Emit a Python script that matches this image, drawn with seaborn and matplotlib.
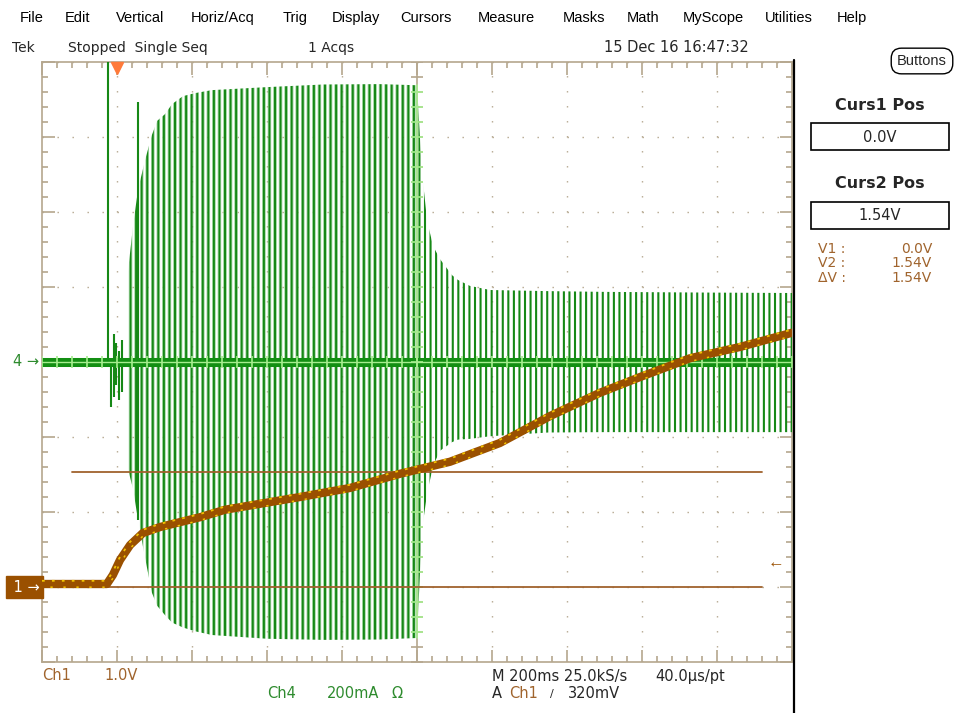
import numpy as np
import matplotlib
matplotlib.use('Agg')
import matplotlib.pyplot as plt
import matplotlib.transforms as mtrans
from matplotlib.lines import Line2D
from matplotlib.patches import Rectangle
from matplotlib.ticker import MultipleLocator
import seaborn as sns

# ---- values (trigger at t = 0) ----
# Ch1 voltage trace, 1.0 V/div
ch1_t = [-0.2, -0.027, -0.011, 0.008, 0.035, 0.069, 0.115, 0.221, 0.288,
         0.488, 0.621, 0.755, 0.888, 1.021, 1.155, 1.288, 1.395, 1.528, 1.661, 1.8]
ch1_v = [0.04, 0.04, 0.16, 0.36, 0.56, 0.72, 0.80, 0.93, 1.03,
         1.20, 1.32, 1.51, 1.67, 1.92, 2.28, 2.59, 2.80, 3.05, 3.20, 3.39]

# Ch4 current (mA), 200 mA/div: envelope of the burst and of the ringing after it
burst_t = [0.027, 0.043, 0.056, 0.075, 0.093, 0.107, 0.128, 0.147, 0.176,
           0.208, 0.253, 0.40, 0.55, 0.70, 0.80]
burst_hi = [221, 365, 459, 539, 605, 643, 661, 688, 709, 717, 725, 733, 740, 741, 738]
burst_lo = [-277, -339, -421, -523, -615, -650, -675, -695, -708, -718, -728, -738, -741, -740, -736]

ring_t = [0.80, 0.813, 0.827, 0.843, 0.861, 0.893, 0.909, 0.941, 0.995,
          1.15, 1.30, 1.45, 1.60, 1.80]
ring_hi = [738, 509, 376, 309, 275, 232, 219, 203, 192, 189, 187, 186, 185, 184]
ring_lo = [-736, -450, -350, -277, -237, -214, -207, -205, -198, -188, -187, -187, -187, -187]

# single spikes before the burst
spike_t = [-0.024, -0.016, -0.008, -0.003, 0.005, 0.013, 0.056]
spike_lo = [0, -120, -93, -60, -100, -80, -421]
spike_hi = [800, 0, 75, 50, 30, 60, 693]

base_t = [-0.2, 1.8]
base_i = [0, 0]

cursor_v = [0.0, 1.54]
trig_level = 0.32
trig_time = 0.0

menu_items = ['File', 'Edit', 'Vertical', 'Horiz/Acq', 'Trig', 'Display', 'Cursors',
              'Measure', 'Masks', 'Math', 'MyScope', 'Utilities', 'Help']
menu_x = [20, 65, 116, 191, 283, 332, 400, 478, 563, 627, 683, 765, 837]

# ---- colours ----
GRAT = '#b5a78e'
BROWN = '#9a5000'
YELLOW = '#f2c400'
CURS = '#a0622d'
TXT_BROWN = '#a0642d'
GREEN = '#168816'
GREEN_LIGHT = '#8fd08f'
BAND = '#138f13'
OVER = '#a6ee8e'
TXT_GREEN = '#2e8b2e'
SCOPE_FONT = ['DejaVu Sans']

sns.set_theme(style='white')
plt.rcParams['font.family'] = ['Liberation Sans', 'DejaVu Sans']

W, H = 959, 713
fig = plt.figure(figsize=(W / 100, H / 100), dpi=100)
fig.patch.set_facecolor('white')


def fx(x):
    return x / W


def fy(y):
    return 1 - y / H


# graticule area: 10 x 8 divisions, 75 px each
ax4 = fig.add_axes([fx(42), fy(662), 750 / W, 600 / H])
ax1 = ax4.twinx()


# hatched envelopes give the dense vertical-line look of the Ch4 trace
def hatched(t, lo, hi, pattern, color, width):
    with plt.rc_context({'hatch.color': color, 'hatch.linewidth': width}):
        coll = ax4.fill_between(t, lo, hi, facecolor='none', edgecolor=color,
                                linewidth=0, hatch=pattern, zorder=3)
    if hasattr(coll, 'set_hatch_linewidth'):
        coll.set_hatch_linewidth(width)
    return coll


hatched(burst_t, burst_lo, burst_hi, '||||||', GREEN_LIGHT, 0.5)
hatched(burst_t, burst_lo, burst_hi, '|||', GREEN, 1.5)
hatched(ring_t, ring_lo, ring_hi, '|||', GREEN, 1.5)
ax4.vlines(spike_t, spike_lo, spike_hi, color=GREEN, lw=1.5, zorder=3)
sns.lineplot(x=base_t, y=base_i, ax=ax4, color=BAND, lw=6.5, zorder=4)

ax4.set_xlim(-0.2, 1.8)
ax4.set_ylim(-800, 800)

# graticule
ax4.xaxis.set_major_locator(MultipleLocator(0.2))
ax4.xaxis.set_minor_locator(MultipleLocator(0.04))
ax4.yaxis.set_major_locator(MultipleLocator(200))
ax4.yaxis.set_minor_locator(MultipleLocator(40))
ax4.tick_params(which='both', direction='in', top=True, bottom=True, left=True,
                right=True, labelbottom=False, labelleft=False, color=GRAT, width=1.2)
ax4.tick_params(which='major', length=9)
ax4.tick_params(which='minor', length=4)
ax4.grid(True, which='major', color=GRAT, linewidth=1.0, linestyle=(0, (1.0, 9.8)))
for s in ax4.spines.values():
    s.set_color(GRAT)
    s.set_linewidth(1.2)

xminor = np.arange(-0.2, 1.8001, 0.04)
yminor = np.arange(-800, 801, 40)
ax4.axvline(0.8, color=GRAT, lw=1.2, zorder=1)
ax4.plot(np.full(len(yminor), 0.8), yminor, ls='none', marker='_', ms=8, mew=1.2,
         color=GRAT, zorder=1)
inside = yminor[np.abs(yminor) <= 736]
ax4.axvline(0.8, ymin=(800 - 736) / 1600, ymax=(800 + 738) / 1600, color=OVER, lw=1.2, zorder=5)
ax4.plot(np.full(len(inside), 0.8), inside, ls='none', marker='_', ms=8, mew=1.2,
         color=OVER, zorder=5)
ax4.axhline(0, color=OVER, lw=1.0, zorder=5)
ax4.plot(xminor, np.zeros(len(xminor)), ls='none', marker='|', ms=8, mew=1.2,
         color=OVER, zorder=5)

# Ch1 on its own scale: ground 1 div above the bottom
for v in cursor_v:
    ax1.axhline(v, xmin=0.04, xmax=0.96, color=CURS, lw=1.3, zorder=1)
sns.lineplot(x=ch1_t, y=ch1_v, ax=ax1, color=BROWN, lw=6, zorder=3)
# yellow speckle along the edges of the thick brown trace
up = mtrans.offset_copy(ax1.transData, fig=fig, x=0, y=3.2, units='dots')
down = mtrans.offset_copy(ax1.transData, fig=fig, x=0, y=-3.2, units='dots')
sns.lineplot(x=ch1_t, y=ch1_v, ax=ax1, color=YELLOW, lw=1.3, ls=(0, (1.5, 4)),
             transform=up, zorder=4)
sns.lineplot(x=ch1_t, y=ch1_v, ax=ax1, color=YELLOW, lw=1.1, ls=(3, (1.5, 7)),
             transform=down, zorder=4)
ax1.set_ylim(-1, 7)
ax1.set_yticks([])
ax1.tick_params(right=False, labelright=False)
for s in ax1.spines.values():
    s.set_visible(False)
ax1.set_ylabel('')

# trigger marks
ax4.plot(trig_time, 0.99, marker='v', ms=9, color='#ff7a3a', mec='#ff7a3a',
         transform=ax4.get_xaxis_transform(), clip_on=False, zorder=6)
tr1 = mtrans.blended_transform_factory(ax1.transAxes, ax1.transData)
ax1.text(0.99, trig_level, '←', transform=tr1, ha='right', va='center',
         color=BROWN, fontsize=12)
ax1.text(-0.003, 0.0, ' 1 →', transform=tr1, ha='right', va='center', color='white',
         fontsize=10.5, family=SCOPE_FONT,
         bbox=dict(boxstyle='square,pad=0.22', fc=BROWN, ec=BROWN))
tr4 = mtrans.blended_transform_factory(ax4.transAxes, ax4.transData)
ax4.text(-0.004, 0, '4 →', transform=tr4, ha='right', va='center', color=TXT_GREEN,
         fontsize=10.5, family=SCOPE_FONT)

# menu and status rows
for name, x in zip(menu_items, menu_x):
    fig.text(fx(x), fy(18), name, ha='left', va='center', fontsize=10.5, color='black')
fig.text(fx(12), fy(48), 'Tek', ha='left', va='center', fontsize=10, family=SCOPE_FONT)
fig.text(fx(68), fy(48), 'Stopped  Single Seq', ha='left', va='center', fontsize=10,
         family=SCOPE_FONT)
fig.text(fx(308), fy(48), '1 Acqs', ha='left', va='center', fontsize=10, family=SCOPE_FONT)
fig.text(fx(604), fy(48), '15 Dec 16 16:47:32', ha='left', va='center', fontsize=10.5,
         family=SCOPE_FONT)
fig.text(fx(922), fy(61), 'Buttons', ha='center', va='center', fontsize=10.5,
         bbox=dict(boxstyle='round,pad=0.4,rounding_size=0.7', fc='white', ec='black', lw=1))

# right panel
fig.add_artist(Line2D([fx(794), fx(794)], [fy(60), 0], color='black', lw=1.6))
for head, val, yh, yb in [('Curs1 Pos', '0.0V', 105, 123), ('Curs2 Pos', '1.54V', 184, 202)]:
    fig.text(fx(880), fy(yh), head, ha='center', va='center', fontsize=11.5,
             weight='bold', family=SCOPE_FONT)
    fig.add_artist(Rectangle((fx(811), fy(yb + 27)), 138 / W, 27 / H, fill=False,
                             ec='black', lw=1.2, transform=fig.transFigure))
    fig.text(fx(880), fy(yb + 14), val, ha='center', va='center', fontsize=10.5,
             family=SCOPE_FONT)
for lab, val, y in [('V1 :', '0.0V', 249), ('V2 :', '1.54V', 263), ('ΔV :', '1.54V', 278)]:
    fig.text(fx(818), fy(y), lab, ha='left', va='center', fontsize=10,
             color=TXT_BROWN, family=SCOPE_FONT)
    fig.text(fx(932), fy(y), val, ha='right', va='center', fontsize=10,
             color=TXT_BROWN, family=SCOPE_FONT)

# bottom read-outs
fig.text(fx(42), fy(676), 'Ch1', ha='left', va='center', fontsize=10.5, color=TXT_BROWN,
         family=SCOPE_FONT)
fig.text(fx(104), fy(676), '1.0V', ha='left', va='center', fontsize=10.5, color=TXT_BROWN,
         family=SCOPE_FONT)
fig.text(fx(267), fy(693), 'Ch4', ha='left', va='center', fontsize=10.5, color=TXT_GREEN,
         family=SCOPE_FONT)
fig.text(fx(327), fy(693), '200mA', ha='left', va='center', fontsize=10.5, color=TXT_GREEN,
         family=SCOPE_FONT)
fig.text(fx(392), fy(693), 'Ω', ha='left', va='center', fontsize=10.5, color=TXT_GREEN,
         family=SCOPE_FONT)
fig.text(fx(492), fy(677), 'M 200ms 25.0kS/s', ha='left', va='center', fontsize=10.5,
         family=SCOPE_FONT)
fig.text(fx(655), fy(677), '40.0µs/pt', ha='left', va='center', fontsize=10.5,
         family=SCOPE_FONT)
fig.text(fx(492), fy(693), 'A', ha='left', va='center', fontsize=10.5, family=SCOPE_FONT)
fig.text(fx(509), fy(693), 'Ch1', ha='left', va='center', fontsize=10.5, color=TXT_BROWN,
         family=SCOPE_FONT)
fig.text(fx(550), fy(694), '/', ha='left', va='center', fontsize=8, family=SCOPE_FONT)
fig.text(fx(568), fy(693), '320mV', ha='left', va='center', fontsize=10.5,
         family=SCOPE_FONT)

fig.savefig('out.png', dpi=100)
